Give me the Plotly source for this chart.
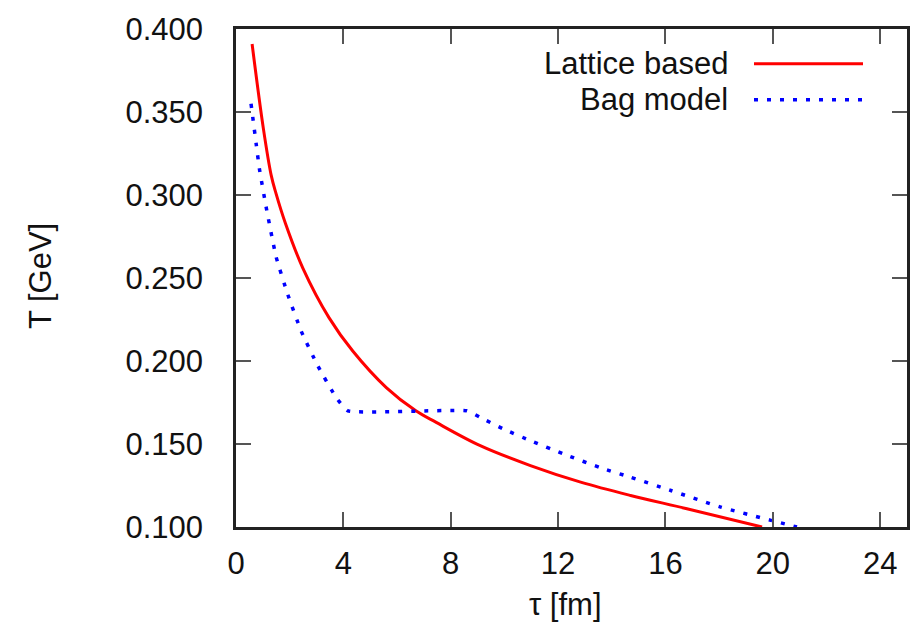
import plotly.graph_objects as go

# Lattice-based EoS cooling curve
lattice_tau = [0.6, 1.02, 1.31, 1.49, 1.84, 2.49, 3.47, 4.35, 5.6, 6.7, 7.46, 9.1, 10.97, 12.84, 14.7, 16.8, 19.6]
lattice_T = [0.391, 0.340, 0.312, 0.301, 0.283, 0.256, 0.226, 0.206, 0.184, 0.170, 0.163, 0.149, 0.137, 0.127, 0.119, 0.111, 0.100]

# Bag model cooling curve
bag_tau = [0.56, 0.75, 0.87, 1.12, 1.49, 1.93, 2.43, 3.05, 3.73, 4.17, 8.6, 9.1, 9.97, 10.97, 12.2, 13.7, 14.7, 16.2, 18.06, 19.93, 20.9]
bag_T = [0.355, 0.331, 0.316, 0.293, 0.263, 0.240, 0.218, 0.197, 0.178, 0.170, 0.170, 0.166, 0.159, 0.152, 0.144, 0.135, 0.130, 0.122, 0.112, 0.104, 0.100]

x_ticks = [0, 4, 8, 12, 16, 20, 24]
y_ticks = [0.100, 0.150, 0.200, 0.250, 0.300, 0.350, 0.400]
y_ticklabels = ["0.100", "0.150", "0.200", "0.250", "0.300", "0.350", "0.400"]

legend_names = ["Lattice based", "Bag model"]
RED = "#ff0000"
BLUE = "#0000ff"
DOT = "4px,9px"
FONT = "Liberation Sans, Arial, sans-serif"

fig = go.Figure()
fig.add_trace(go.Scatter(x=lattice_tau, y=lattice_T, mode="lines",
                         line=dict(color=RED, width=3, shape="spline", smoothing=1.0),
                         showlegend=False))
fig.add_trace(go.Scatter(x=bag_tau, y=bag_T, mode="lines",
                         line=dict(color=BLUE, width=3.5, dash=DOT, shape="spline", smoothing=0.4),
                         showlegend=False))

W, H = 922, 637
L, R, T, B = 236, 15, 27, 110

axis_common = dict(showgrid=False, zeroline=False, showline=True, mirror="ticks",
                   linecolor="#222222", linewidth=2.5, ticks="inside", ticklen=15,
                   tickwidth=2, tickcolor="#555555",
                   tickfont=dict(family=FONT, size=31, color="#111111"))

fig.update_layout(
    width=W, height=H,
    margin=dict(l=L, r=R, t=T, b=B),
    paper_bgcolor="white", plot_bgcolor="white",
    xaxis=dict(range=[0, 25], tickvals=x_ticks, ticklabelstandoff=7, **axis_common),
    yaxis=dict(range=[0.1, 0.4], tickvals=y_ticks, ticktext=y_ticklabels,
               ticklabelstandoff=24, **axis_common),
)

# axis titles
fig.add_annotation(text="τ [fm]", xref="paper", yref="paper", x=(565 - L) / (W - L - R),
                   y=-(605 - (H - B)) / (H - T - B), showarrow=False,
                   font=dict(family=FONT, size=31, color="#111111"), xanchor="center", yanchor="middle")
fig.add_annotation(text="T [GeV]", xref="paper", yref="paper", x=-(L - 40) / (W - L - R),
                   y=(H - B - 275) / (H - T - B), showarrow=False, textangle=-90,
                   font=dict(family=FONT, size=31, color="#111111"), xanchor="center", yanchor="middle")

# legend (gnuplot style: text right-aligned, sample to the right)
pw, ph = W - L - R, H - T - B
leg_y = [62, 98]
leg_colors = [RED, BLUE]
leg_dash = ["solid", DOT]
leg_width = [3, 3.5]
for name, yy, c, d, w in zip(legend_names, leg_y, leg_colors, leg_dash, leg_width):
    yp = (H - B - yy) / ph
    fig.add_annotation(text=name, xref="paper", yref="paper", x=(730 - L) / pw, y=yp,
                       showarrow=False, xanchor="right", yanchor="middle",
                       font=dict(family=FONT, size=31, color="#111111"))
    fig.add_shape(type="line", xref="paper", yref="paper",
                  x0=(754 - L) / pw, x1=(863 - L) / pw, y0=yp, y1=yp,
                  line=dict(color=c, width=w, dash=d))

fig.write_html("out.html")
